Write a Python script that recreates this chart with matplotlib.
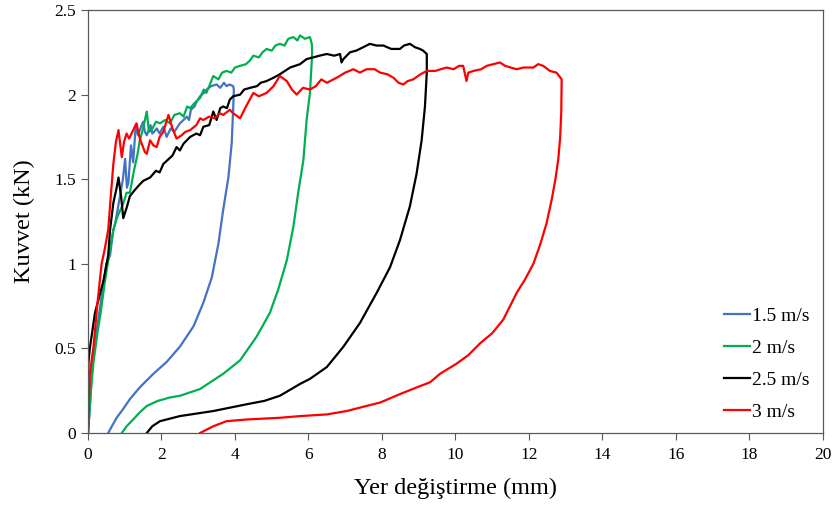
import numpy as np
import matplotlib
matplotlib.use("Agg")
import matplotlib.pyplot as plt

# force-displacement loops (x in mm, y in kN)
labels = ["1.5 m/s", "2 m/s", "2.5 m/s", "3 m/s"]
colors = ["#4472C4", "#00B050", "#000000", "#FF0000"]

blue_pts = [
    (0.0, 0.0), (0.05, 0.15), (0.1, 0.35), (0.2, 0.55), (0.3, 0.70), (0.4, 0.85),
    (0.5, 1.00), (0.6, 1.05), (0.69, 1.20), (0.75, 1.25), (0.87, 1.40), (0.95, 1.50),
    (1.01, 1.62), (1.06, 1.45), (1.10, 1.48), (1.17, 1.70), (1.23, 1.60), (1.30, 1.82),
    (1.36, 1.76), (1.41, 1.79), (1.50, 1.84), (1.55, 1.78), (1.60, 1.76), (1.70, 1.82),
    (1.75, 1.77), (1.80, 1.78), (1.87, 1.80), (1.95, 1.77), (2.05, 1.81), (2.14, 1.75),
    (2.25, 1.80), (2.35, 1.78), (2.41, 1.80), (2.50, 1.83), (2.60, 1.85), (2.69, 1.87),
    (2.75, 1.85), (2.80, 1.91), (2.90, 1.93), (2.96, 1.96), (3.05, 1.99), (3.15, 2.01),
    (3.23, 2.03), (3.35, 2.05), (3.50, 2.06), (3.60, 2.04), (3.70, 2.07), (3.77, 2.05),
    (3.85, 2.06), (3.95, 2.05), (3.97, 2.03), (3.95, 1.91), (3.91, 1.71), (3.82, 1.51),
    (3.68, 1.32), (3.55, 1.12), (3.37, 0.92), (3.14, 0.77), (2.87, 0.63), (2.50, 0.51),
    (2.14, 0.42), (1.78, 0.35), (1.41, 0.27), (1.14, 0.20), (0.95, 0.14), (0.78, 0.09),
    (0.65, 0.04), (0.55, 0.0),
]

green_pts = [
    (0.0, 0.0), (0.08, 0.25), (0.15, 0.42), (0.25, 0.58), (0.35, 0.72), (0.45, 0.88),
    (0.55, 1.02), (0.69, 1.20), (0.80, 1.28), (0.95, 1.35), (1.05, 1.42), (1.14, 1.42),
    (1.25, 1.55), (1.35, 1.65), (1.41, 1.73), (1.50, 1.80), (1.60, 1.90), (1.66, 1.78),
    (1.73, 1.79), (1.85, 1.84), (1.96, 1.83), (2.10, 1.85), (2.23, 1.83), (2.35, 1.88),
    (2.50, 1.89), (2.60, 1.87), (2.70, 1.93), (2.78, 1.92), (2.90, 1.95), (3.05, 1.98),
    (3.15, 2.03), (3.22, 2.01), (3.30, 2.05), (3.41, 2.11), (3.55, 2.09), (3.65, 2.13),
    (3.77, 2.14), (3.90, 2.13), (4.00, 2.16), (4.14, 2.17), (4.30, 2.18), (4.40, 2.20),
    (4.50, 2.23), (4.65, 2.22), (4.75, 2.25), (4.86, 2.27), (5.00, 2.26), (5.10, 2.29),
    (5.22, 2.30), (5.35, 2.29), (5.45, 2.33), (5.59, 2.34), (5.70, 2.32), (5.77, 2.35),
    (5.90, 2.33), (6.04, 2.34), (6.09, 2.30), (6.10, 2.25), (6.09, 2.20), (6.04, 2.01),
    (5.95, 1.85), (5.86, 1.61), (5.72, 1.42), (5.59, 1.22), (5.41, 1.02), (5.18, 0.85),
    (4.95, 0.71), (4.59, 0.57), (4.14, 0.43), (3.68, 0.35), (3.05, 0.26), (2.50, 0.22),
    (2.23, 0.21), (1.90, 0.19), (1.60, 0.16), (1.40, 0.12), (1.23, 0.08), (1.05, 0.04),
    (0.92, 0.0),
]

black_pts = [
    (0.0, 0.0), (0.01, 0.41), (0.05, 0.50), (0.19, 0.71), (0.30, 0.80), (0.42, 0.90),
    (0.55, 1.05), (0.60, 1.20), (0.69, 1.36), (0.78, 1.45), (0.83, 1.51), (0.90, 1.40),
    (0.96, 1.27), (1.05, 1.33), (1.14, 1.40), (1.25, 1.43), (1.37, 1.46), (1.50, 1.49),
    (1.69, 1.51), (1.85, 1.55), (1.95, 1.54), (2.05, 1.59), (2.20, 1.62), (2.30, 1.64),
    (2.41, 1.69), (2.50, 1.67), (2.60, 1.71), (2.78, 1.75), (2.95, 1.77), (3.05, 1.76),
    (3.14, 1.81), (3.30, 1.82), (3.41, 1.90), (3.50, 1.85), (3.60, 1.92), (3.68, 1.93),
    (3.78, 1.92), (3.86, 1.97), (3.95, 1.99), (4.14, 2.00), (4.25, 2.03), (4.41, 2.04),
    (4.60, 2.05), (4.70, 2.07), (4.86, 2.08), (5.05, 2.10), (5.22, 2.12), (5.50, 2.16),
    (5.77, 2.18), (5.95, 2.21), (6.13, 2.22), (6.30, 2.23), (6.50, 2.24), (6.70, 2.23),
    (6.86, 2.24), (6.90, 2.19), (6.95, 2.21), (7.13, 2.25), (7.30, 2.26), (7.49, 2.28),
    (7.67, 2.30), (7.85, 2.29), (8.04, 2.29), (8.25, 2.27), (8.49, 2.27), (8.60, 2.29),
    (8.76, 2.30), (8.90, 2.28), (9.03, 2.27), (9.12, 2.26), (9.22, 2.24), (9.22, 2.13),
    (9.17, 1.93), (9.08, 1.73), (8.94, 1.53), (8.76, 1.34), (8.49, 1.14), (8.22, 0.98),
    (7.86, 0.83), (7.40, 0.65), (6.95, 0.51), (6.50, 0.39), (6.04, 0.32), (5.77, 0.29),
    (5.22, 0.22), (4.80, 0.19), (4.32, 0.17), (3.41, 0.13), (2.50, 0.10), (1.96, 0.07),
    (1.75, 0.04), (1.60, 0.0),
]

red_pts = [
    (0.0, 0.0), (0.05, 0.35), (0.15, 0.51), (0.25, 0.75), (0.37, 1.00), (0.45, 1.08),
    (0.55, 1.20), (0.62, 1.40), (0.69, 1.59), (0.76, 1.72), (0.83, 1.79), (0.92, 1.63),
    (0.98, 1.72), (1.05, 1.77), (1.12, 1.74), (1.23, 1.79), (1.32, 1.83), (1.40, 1.75),
    (1.46, 1.71), (1.55, 1.66), (1.60, 1.65), (1.69, 1.73), (1.78, 1.70), (1.87, 1.69),
    (1.95, 1.75), (2.05, 1.78), (2.19, 1.88), (2.30, 1.80), (2.41, 1.74), (2.55, 1.76),
    (2.65, 1.78), (2.78, 1.79), (2.95, 1.82), (3.05, 1.86), (3.14, 1.85), (3.30, 1.87),
    (3.45, 1.86), (3.59, 1.89), (3.68, 1.88), (3.86, 1.91), (3.95, 1.89), (4.14, 1.86),
    (4.30, 1.93), (4.50, 2.01), (4.65, 1.99), (4.86, 2.01), (5.05, 2.05), (5.22, 2.11),
    (5.41, 2.08), (5.55, 2.03), (5.68, 2.00), (5.85, 2.04), (6.04, 2.03), (6.20, 2.05),
    (6.35, 2.09), (6.50, 2.07), (6.77, 2.10), (7.00, 2.13), (7.22, 2.15), (7.40, 2.13),
    (7.58, 2.15), (7.80, 2.15), (7.95, 2.13), (8.15, 2.12), (8.31, 2.10), (8.45, 2.07),
    (8.58, 2.06), (8.70, 2.08), (8.85, 2.09), (9.05, 2.12), (9.22, 2.14), (9.45, 2.14),
    (9.60, 2.15), (9.76, 2.16), (9.95, 2.15), (10.10, 2.17), (10.21, 2.17), (10.30, 2.08),
    (10.35, 2.13), (10.49, 2.14), (10.70, 2.15), (10.85, 2.17), (11.03, 2.18), (11.21, 2.19),
    (11.35, 2.17), (11.50, 2.16), (11.67, 2.15), (11.85, 2.16), (12.00, 2.16), (12.12, 2.16),
    (12.25, 2.18), (12.39, 2.17), (12.57, 2.14), (12.75, 2.13), (12.89, 2.09), (12.88, 1.90),
    (12.85, 1.75), (12.80, 1.62), (12.72, 1.50), (12.62, 1.38), (12.48, 1.24), (12.30, 1.11),
    (12.12, 1.00), (11.90, 0.91), (11.67, 0.83), (11.30, 0.67), (11.00, 0.59), (10.67, 0.53),
    (10.35, 0.46), (10.03, 0.41), (9.58, 0.35), (9.31, 0.30), (8.95, 0.27), (8.49, 0.23),
    (7.95, 0.18), (7.58, 0.16), (7.04, 0.13), (6.50, 0.11), (5.77, 0.10), (5.22, 0.09),
    (4.32, 0.08), (3.77, 0.07), (3.41, 0.04), (3.05, 0.0),
]

x_ticks = list(range(0, 21, 2))
y_ticks = [0, 0.5, 1, 1.5, 2, 2.5]
y_tick_labels = ["0", "0.5", "1", "1.5", "2", "2.5"]

plt.rcParams['font.family'] = ['Liberation Serif', 'DejaVu Serif']

fig = plt.figure(figsize=(8.38, 5.08), dpi=100)
ax = fig.add_axes([0.105, 0.1476, 0.877, 0.8327])

for pts, lab, col in zip([blue_pts, green_pts, black_pts, red_pts], labels, colors):
    arr = np.array(pts)
    ax.plot(arr[:, 0], arr[:, 1], color=col, lw=1.6, label=lab)

ax.set_xlim(0, 20)
ax.set_ylim(0, 2.5)
ax.set_xticks(x_ticks)
ax.set_yticks(y_ticks)
ax.set_yticklabels(y_tick_labels)
ax.tick_params(direction='out', length=5, width=0.8, labelsize=12.5, color='#595959')
ax.tick_params(axis='x', pad=5)
for sp in ax.spines.values():
    sp.set_color('#595959')
    sp.set_linewidth(0.9)

ax.set_xlabel("Yer değiştirme (mm)", fontsize=17.5, labelpad=11)
ax.set_ylabel("Kuvvet (kN)", fontsize=17.5, labelpad=14)

ax.legend(loc='lower left', bbox_to_anchor=(0.865, 0.028), frameon=False, fontsize=14,
          handlelength=1.35, handletextpad=0.1, labelspacing=0.75,
          borderpad=0, borderaxespad=0)

fig.savefig("out.png", dpi=100)
